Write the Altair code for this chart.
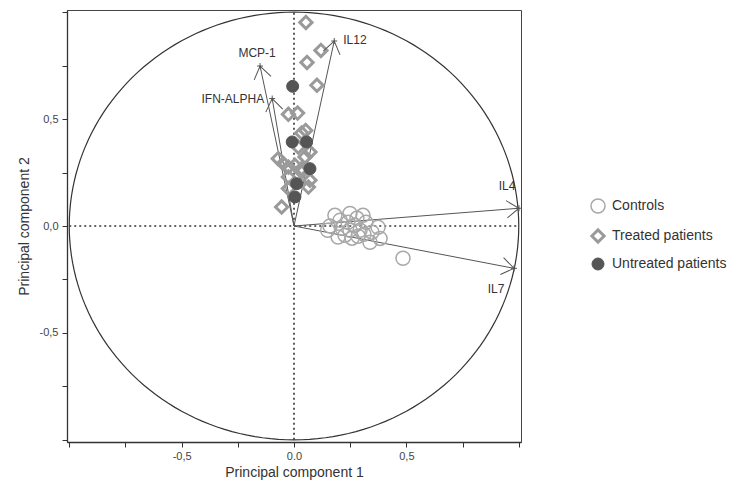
import math
import numpy as np
import pandas as pd
import altair as alt

# ---- data ----
groups = ["Controls", "Treated patients", "Untreated patients"]

ctrl_x = [0.182, 0.307, 0.249, 0.374, 0.383, 0.338, 0.196, 0.214, 0.240, 0.271, 0.294,
          0.320, 0.160, 0.227, 0.258, 0.285, 0.311, 0.347, 0.205, 0.280, 0.150, 0.249, 0.485]
ctrl_y = [0.050, 0.050, 0.059, -0.006, -0.058, -0.076, -0.052, -0.011, 0.017, 0.003, -0.020,
          0.017, 0.000, -0.043, -0.057, -0.048, -0.039, -0.029, 0.027, 0.036, -0.020, -0.020, -0.151]

trt_x = [0.053, 0.120, 0.058, 0.102, -0.025, 0.016, 0.034, 0.052, 0.019, 0.071, 0.049,
         -0.070, -0.048, -0.025, 0.004, 0.034, -0.025, 0.034, 0.071, -0.025, 0.064, -0.055]
trt_y = [0.952, 0.821, 0.765, 0.658, 0.522, 0.528, 0.435, 0.447, 0.369, 0.346, 0.323,
         0.315, 0.292, 0.276, 0.284, 0.268, 0.229, 0.252, 0.214, 0.175, 0.182, 0.089]

unt_x = [-0.006, -0.008, 0.056, 0.071, 0.012, 0.004]
unt_y = [0.653, 0.393, 0.393, 0.268, 0.198, 0.136]

var_names = ["IL4", "IL7", "IL12", "MCP-1", "IFN-ALPHA"]
var_x = [1.001, 0.979, 0.179, -0.151, -0.097]
var_y = [0.083, -0.198, 0.865, 0.748, 0.596]

x_ticks = [-1, -0.75, -0.5, -0.25, 0, 0.25, 0.5, 0.75, 1]
y_ticks = [-1, -0.75, -0.5, -0.25, 0, 0.25, 0.5, 0.75, 1]

# ---- layout ----
W, H = 454, 432
XD = [-1.01, 1.01]
YD = [-1.01, 1.01]
px_x = W / (XD[1] - XD[0])
px_y = H / (YD[1] - YD[0])
FONT = "Liberation Sans"

pts = pd.DataFrame({
    "x": ctrl_x + trt_x + unt_x,
    "y": ctrl_y + trt_y + unt_y,
    "group": [groups[0]] * len(ctrl_x) + [groups[1]] * len(trt_x) + [groups[2]] * len(unt_x),
})

vec = pd.DataFrame({
    "name": var_names,
    "x": var_x,
    "y": var_y,
    "x0": [0.0] * len(var_names),
    "y0": [0.0] * len(var_names),
})
vec["angle"] = [
    math.degrees(math.atan2(a * px_x, b * px_y)) % 360 for a, b in zip(var_x, var_y)
]

theta = np.arange(0, 361, 2)
circ = pd.DataFrame({"x": np.cos(np.radians(theta)), "y": np.sin(np.radians(theta)), "i": theta})

guides = pd.DataFrame({"x": [-1.0, 0.0], "x2": [1.0, 0.0], "y": [0.0, -1.0], "y2": [0.0, 1.0]})

xs = alt.Scale(domain=XD, nice=False, zero=False)
ys = alt.Scale(domain=YD, nice=False, zero=False)

x_axis = alt.Axis(
    values=x_ticks, grid=False, title="Principal component 1",
    labelExpr="datum.value == -0.5 ? '-0,5' : datum.value == 0 ? '0.0' : datum.value == 0.5 ? '0,5' : ''",
    labelPadding=3, titlePadding=4,
)
y_axis = alt.Axis(
    values=y_ticks, grid=False, title="Principal component 2",
    labelExpr="datum.value == -0.5 ? '-0,5' : datum.value == 0 ? '0,0' : datum.value == 0.5 ? '0,5' : ''",
    labelPadding=4, titlePadding=8,
)


def X(f="x"):
    return alt.X(f"{f}:Q", scale=xs, axis=x_axis)


def Y(f="y"):
    return alt.Y(f"{f}:Q", scale=ys, axis=y_axis)


circle = alt.Chart(circ).mark_line(color="#333333", strokeWidth=1.2).encode(
    x=X(), y=Y(), order="i:Q")

dotted = alt.Chart(guides).mark_rule(color="#333333", strokeWidth=1.6, strokeDash=[2, 3]).encode(
    x=X(), y=Y(), x2="x2:Q", y2="y2:Q")

shafts = alt.Chart(vec).mark_rule(color="#555555", strokeWidth=1).encode(
    x=X("x0"), y=Y("y0"), x2="x:Q", y2="y:Q")

leg = alt.Legend(title=None, orient="none", legendX=523, legendY=188,
                 labelFontSize=14, labelFont=FONT, labelColor="#333333",
                 rowPadding=7, labelOffset=6, padding=0)

points = alt.Chart(pts).mark_point(filled=True, opacity=1).encode(
    x=X(), y=Y(),
    shape=alt.Shape("group:N", scale=alt.Scale(domain=groups, range=["circle", "diamond", "circle"]), legend=leg),
    fill=alt.Fill("group:N", scale=alt.Scale(domain=groups, range=["transparent", "transparent", "#555555"]), legend=leg),
    stroke=alt.Stroke("group:N", scale=alt.Scale(domain=groups, range=["#a8a8a8", "#9a9a9a", "#555555"]), legend=leg),
    strokeWidth=alt.StrokeWidth("group:N", scale=alt.Scale(type="ordinal", domain=groups, range=[1.5, 3, 1]), legend=leg),
    size=alt.Size("group:N", scale=alt.Scale(type="ordinal", domain=groups, range=[196, 150, 144]), legend=leg),
)

heads = alt.Chart(vec).mark_point(
    shape="M -0.86 1.23 L 0 0 L 0.86 1.23", filled=False, opacity=1,
    stroke="#555555", strokeWidth=1, size=400).encode(
    x=X(), y=Y(), angle=alt.Angle("angle:Q", scale=None))

crosses = alt.Chart(vec).mark_point(
    shape="M -1 0 L 1 0 M 0 -1 L 0 1", filled=False, opacity=1,
    stroke="#555555", strokeWidth=1, size=36).encode(x=X(), y=Y())

label_style = {
    "IL4": dict(align="center", baseline="middle", dx=-12, dy=-22),
    "IL7": dict(align="center", baseline="middle", dx=-18, dy=21),
    "IL12": dict(align="left", baseline="middle", dx=9, dy=-1),
    "MCP-1": dict(align="center", baseline="middle", dx=-3, dy=-13),
    "IFN-ALPHA": dict(align="right", baseline="middle", dx=-8, dy=0),
}
labels = [
    alt.Chart(vec).transform_filter(alt.datum.name == n).mark_text(
        fontSize=12, font=FONT, color="#333333", **st).encode(x=X(), y=Y(), text="name:N")
    for n, st in label_style.items()
]

chart = alt.layer(circle, dotted, shafts, points, heads, crosses, *labels).properties(
    width=W, height=H,
    background="white",
    autosize=alt.AutoSizeParams(type="none"),
    padding={"left": 59, "top": 2, "right": 210, "bottom": 39},
).configure_view(stroke="#444444", strokeWidth=1).configure_axis(
    labelFont=FONT, labelFontSize=11, labelColor="#444444",
    titleFont=FONT, titleFontSize=14, titleFontWeight="normal", titleColor="#333333",
    domainColor="#333333", domainWidth=1.3, tickColor="#333333", tickSize=5,
)

chart.save("out.html", embed_options={"renderer": "svg", "actions": False})
